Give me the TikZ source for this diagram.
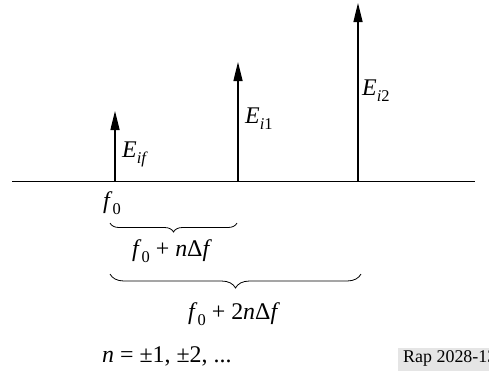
\documentclass[tikz,border=0pt]{standalone}
\usepackage{fontspec}
\setmainfont{Liberation Serif}
\usetikzlibrary{arrows.meta,decorations.pathreplacing}
\newcommand{\mysub}[1]{\raisebox{-0.28em}{\fontsize{16.5}{17}\selectfont #1}}
\begin{document}
\begin{tikzpicture}[x=1bp,y=-1bp,
  axis/.style={line width=1.3bp},
  spike/.style={line width=1.3bp,-{Triangle[length=19bp,width=9bp]}},
  lbl/.style={anchor=base west,inner sep=0pt,font=\fontsize{24}{27}\selectfont},
  brc/.style={decorate,decoration={brace,amplitude=#1,mirror},line width=0.8bp},
  tag/.style={anchor=base west,inner xsep=5bp,inner ysep=0pt,fill=black!10,
    text height=14bp,text depth=9bp,font=\fontsize{18}{21}\selectfont}]
\useasboundingbox (0,0) rectangle (489,371);
% axis
\coordinate (L) at (12,181.5);
\coordinate (R) at (475,181.5);
\draw[axis] (L) -- (R);
% spikes
\coordinate (b1) at (115,181.5); \coordinate (t1) at (115,111);
\coordinate (b2) at (238,181.5); \coordinate (t2) at (238,62);
\coordinate (b3) at (358,181.5); \coordinate (t3) at (358,3);
\draw[spike] (b1) -- (t1);
\draw[spike] (b2) -- (t2);
\draw[spike] (b3) -- (t3);
% spike labels
\node[lbl] (Eif) at (122,157) {\textit{E}\mysub{\textit{if}}};
\node[lbl] (Ei1) at (245,123) {\textit{E}\mysub{\textit{i}1}};
\node[lbl] (Ei2) at (362,95) {\textit{E}\mysub{\textit{i}2}};
% frequency labels
\node[lbl] (f0) at (103,208) {\textit{f}\mysub{0}};
\coordinate (br1a) at (110,223); \coordinate (br1b) at (237,223);
\draw[brc=9bp] (br1a) -- (br1b);
\node[lbl] (f1) at (132,256) {\textit{f}\mysub{0} + \textit{n}Δ\textit{f}};
\coordinate (br2a) at (110,274); \coordinate (br2b) at (361,274);
\draw[brc=14bp] (br2a) -- (br2b);
\node[lbl] (f2) at (188,319) {\textit{f}\mysub{0} + 2\textit{n}Δ\textit{f}};
\node[lbl] (nn) at (102,362) {\textit{n} = ±1, ±2, ...};
\node[tag] (rap) at (398,362) {Rap 2028-13};
\end{tikzpicture}
\end{document}
